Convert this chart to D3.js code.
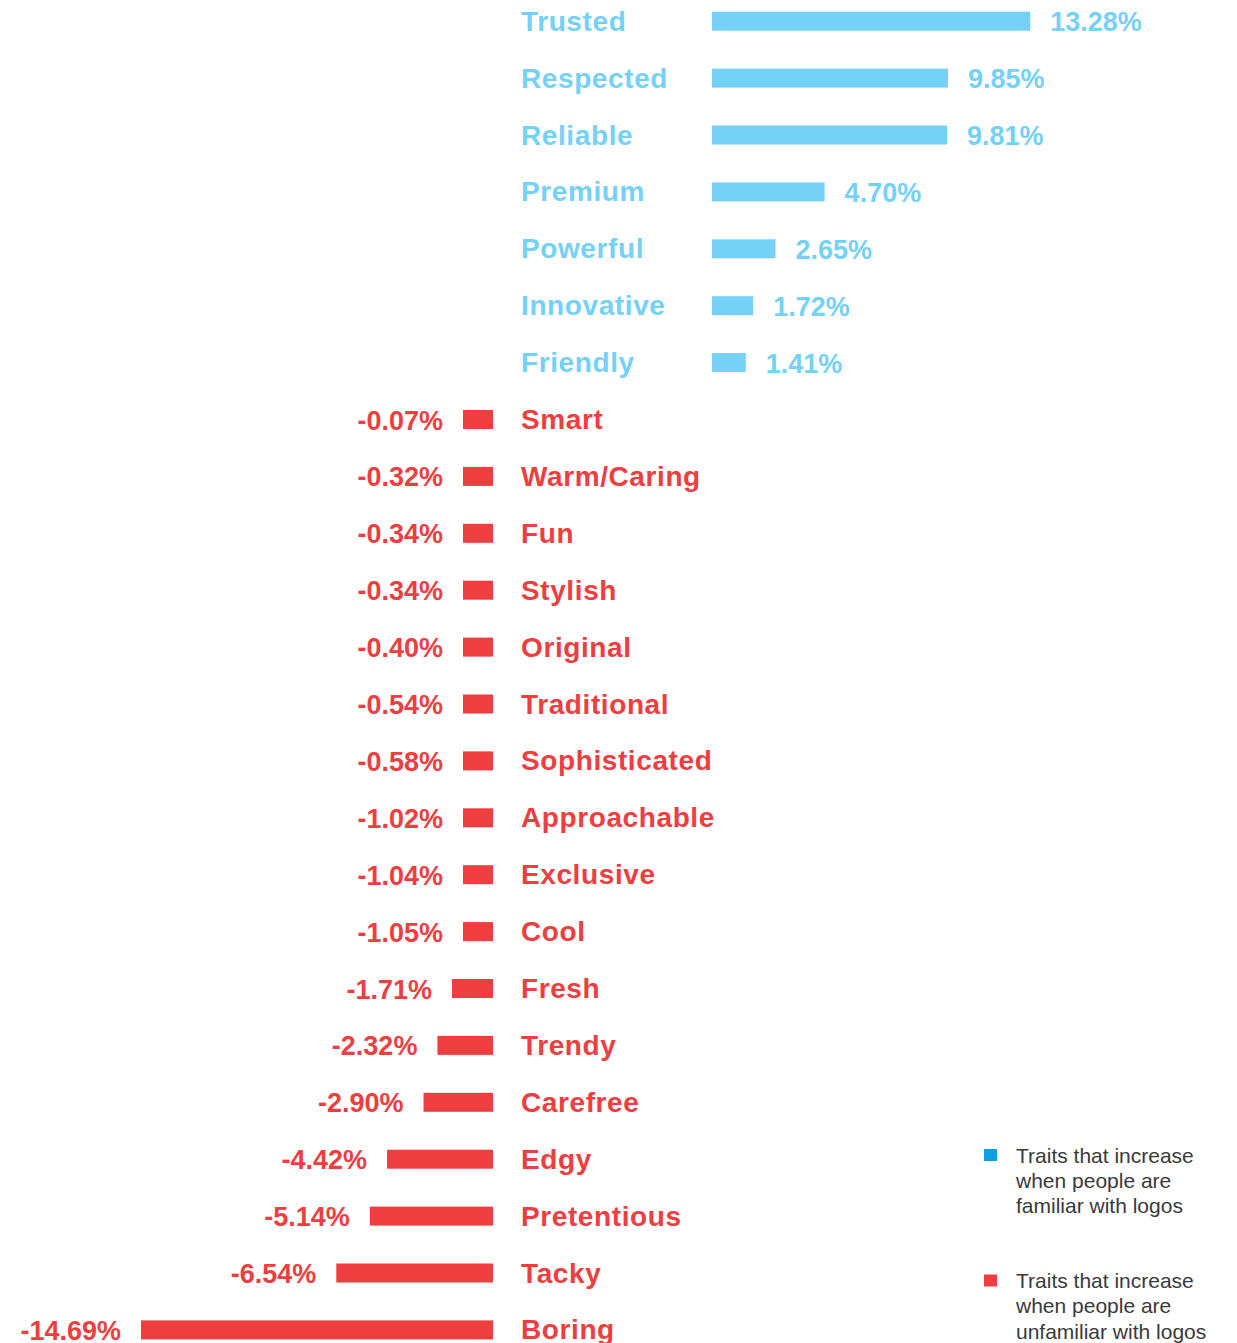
<!DOCTYPE html>
<html>
<head>
<meta charset="utf-8">
<script src="https://cdn.jsdelivr.net/npm/d3@7"></script>
<style>
  html, body { margin: 0; padding: 0; background: #fff; }
  svg text { font-family: "Liberation Sans", Arial, Helvetica, sans-serif; }
</style>
</head>
<body>
<div id="chart"></div>
<script>
// traits, top to bottom
var traits = ["Trusted", "Respected", "Reliable", "Premium", "Powerful", "Innovative", "Friendly",
  "Smart", "Warm/Caring", "Fun", "Stylish", "Original", "Traditional", "Sophisticated",
  "Approachable", "Exclusive", "Cool", "Fresh", "Trendy", "Carefree", "Edgy", "Pretentious",
  "Tacky", "Boring"];
// change in % for each trait (same order)
var changes = [13.28, 9.85, 9.81, 4.70, 2.65, 1.72, 1.41,
  -0.07, -0.32, -0.34, -0.34, -0.40, -0.54, -0.58,
  -1.02, -1.04, -1.05, -1.71, -2.32, -2.90, -4.42, -5.14,
  -6.54, -14.69];
var legendItems = [
  ["Traits that increase", "when people are", "familiar with logos"],
  ["Traits that increase", "when people are", "unfamiliar with logos"]
];

var width = 1237, height = 1343;
var blue = "#75d1f6", red = "#ee3e3f", legendBlue = "#0fa0e3";
var zeroPos = 712, zeroNeg = 493, labelX = 521, minBar = 30, barH = 19;

var data = traits.map(function (t, i) { return { name: t, value: changes[i] }; });

var svg = d3.select("#chart").append("svg")
  .attr("width", width)
  .attr("height", height);

var y = d3.scalePoint()
  .domain(traits)
  .range([21.2, 1329.9]);

// one length scale for both sides
var len = d3.scaleLinear()
  .domain([0, d3.max(changes, function (v) { return Math.abs(v); })])
  .range([0, 352]);

var fmt = d3.format(".2f");
function pct(v) { return (v < 0 ? "-" : "") + fmt(Math.abs(v)) + "%"; }
function barW(d) { return Math.max(minBar, len(Math.abs(d.value))); }
function col(d) { return d.value >= 0 ? blue : red; }

var rows = svg.selectAll("g.row")
  .data(data)
  .enter().append("g")
  .attr("class", "row")
  .attr("transform", function (d) { return "translate(0," + y(d.name) + ")"; });

rows.append("rect")
  .attr("x", function (d) { return d.value >= 0 ? zeroPos : zeroNeg - barW(d); })
  .attr("y", -barH / 2)
  .attr("width", barW)
  .attr("height", barH)
  .attr("fill", col);

rows.append("text")
  .attr("x", labelX)
  .attr("y", 9.5)
  .attr("fill", col)
  .style("font-size", "28px")
  .style("font-weight", "bold")
  .style("letter-spacing", "0.6px")
  .text(function (d) { return d.name; });

rows.append("text")
  .attr("x", function (d) { return d.value >= 0 ? zeroPos + barW(d) + 20 : zeroNeg - barW(d) - 20; })
  .attr("y", 10)
  .attr("text-anchor", function (d) { return d.value >= 0 ? "start" : "end"; })
  .attr("fill", col)
  .style("font-size", "27px")
  .style("font-weight", "bold")
  .text(function (d) { return pct(d.value); });

// legend
var legend = svg.selectAll("g.legend")
  .data(legendItems)
  .enter().append("g")
  .attr("class", "legend")
  .attr("transform", function (d, i) { return "translate(984," + (1149 + i * 125.5) + ")"; });

legend.append("rect")
  .attr("width", 13)
  .attr("height", 12)
  .attr("fill", function (d, i) { return i === 0 ? legendBlue : red; });

legend.append("text")
  .attr("x", 32)
  .attr("fill", "#3a3a3a")
  .style("font-size", "21px")
  .selectAll("tspan")
  .data(function (d) { return d; })
  .enter().append("tspan")
  .attr("x", 32)
  .attr("y", function (d, i) { return 13.5 + i * 25.3; })
  .text(function (d) { return d; });
</script>
</body>
</html>
